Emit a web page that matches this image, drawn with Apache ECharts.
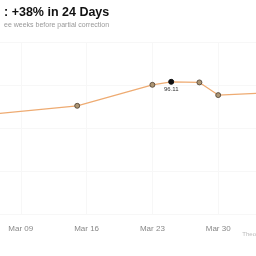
<!DOCTYPE html>
<html><head><meta charset="utf-8">
<script src="https://cdn.jsdelivr.net/npm/echarts@6/dist/echarts.min.js"></script>
<style>html,body{margin:0;padding:0;background:#fff}#c{width:256px;height:256px}</style>
</head><body><div id="c"></div>
<script>
const dates = ['2025-03-02','2025-03-15','2025-03-23','2025-03-25','2025-03-28','2025-03-30','2025-04-06'];
const prices = [83.55, 87.74, 95.06, 96.11, 95.90, 91.47, 92.50];
const markerShown = [false, true, true, true, true, true, false];
const peakLabel = '96.11';
const titleText = ': +38% in 24 Days';
const subtitleText = 'ee weeks before partial correction';
const sourceText = 'Theor';
const baseDate = Date.UTC(2025, 2, 9);
const MONTHS = ['Jan','Feb','Mar','Apr','May','Jun','Jul','Aug','Sep','Oct','Nov','Dec'];
const dayOf = s => (Date.parse(s + 'T00:00:00Z') - baseDate) / 86400000;
const fmt = d => { const t = new Date(baseDate + d * 86400000); return MONTHS[t.getUTCMonth()] + ' ' + String(t.getUTCDate()).padStart(2, '0'); };
const peakIdx = prices.indexOf(Math.max(...prices));
const data = dates.map((d, i) => ({
  value: [dayOf(d), prices[i]],
  symbolSize: markerShown[i] ? 5 : 0,
  itemStyle: i === peakIdx ? {color: '#111', borderColor: '#111'} : {color: '#ad9674', borderColor: '#4a3c30', borderWidth: 0.8},
  label: i === peakIdx ? {show: true, position: 'bottom', distance: 1.5, formatter: peakLabel, fontSize: 6, color: '#333', fontFamily: 'Liberation Sans'} : {show: false}
}));
const chart = echarts.init(document.getElementById('c'), null, {renderer: 'canvas'});
chart.setOption({
  animation: false,
  backgroundColor: '#fff',
  title: {
    text: titleText, subtext: subtitleText, left: -1, top: 1, itemGap: 3,
    textStyle: {fontSize: 12.5, fontWeight: 'bold', color: '#111', fontFamily: 'Liberation Sans'},
    subtextStyle: {fontSize: 7, color: '#999', fontFamily: 'Liberation Sans'}
  },
  graphic: [{type: 'text', right: -2, top: 231, style: {text: sourceText, fontSize: 6, fill: '#bbb', fontFamily: 'Liberation Sans'}}],
  grid: {left: -45, right: -28, top: 42, bottom: 42, containLabel: false, outerBoundsMode: 'none'},
  xAxis: {
    type: 'value', min: -7, max: 28, interval: 7,
    axisLine: {show: false}, axisTick: {show: false},
    splitLine: {show: true, lineStyle: {color: '#f7f7f7', width: 1}},
    axisLabel: {formatter: fmt, fontSize: 8, color: '#888', margin: 11, fontFamily: 'Liberation Sans'}
  },
  yAxis: {
    type: 'value', min: 50, max: 110, interval: 15,
    axisLine: {show: false}, axisTick: {show: false}, axisLabel: {show: false},
    splitLine: {show: true, lineStyle: {color: '#f7f7f7', width: 1}}
  },
  series: [{
    type: 'line', data: data, symbol: 'circle', clip: true,
    lineStyle: {color: '#eeab72', width: 1.2},
    z: 3
  }]
});
</script></body></html>
